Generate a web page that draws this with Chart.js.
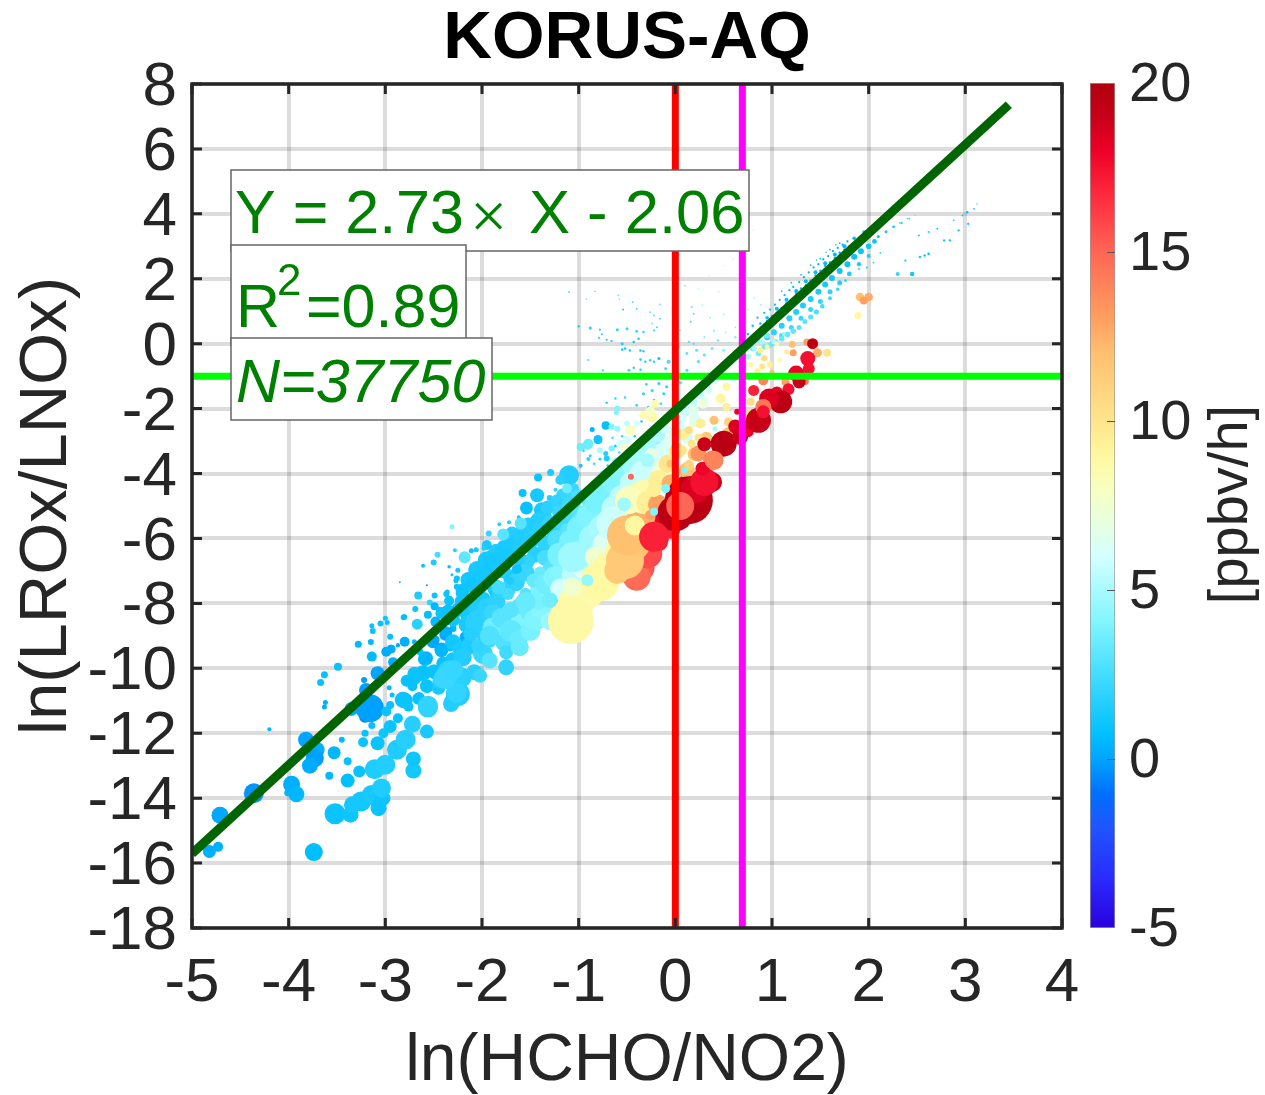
<!DOCTYPE html>
<html>
<head>
<meta charset="utf-8">
<title>KORUS-AQ</title>
<script src="https://cdn.jsdelivr.net/npm/chart.js@4"></script>
<style>
    body { margin: 0; background: #ffffff; }
    #plot { position: absolute; left: 0; top: 0; }
    #bar { position: absolute; left: 1070px; top: 0; }
</style>
</head>
<body>
<canvas id="plot" width="1265" height="1095"></canvas>
<canvas id="bar" width="195" height="1095"></canvas>
<script>
const xTicks = [-5, -4, -3, -2, -1, 0, 1, 2, 3, 4]
const yTicks = [8, 6, 4, 2, 0, -2, -4, -6, -8, -10, -12, -14, -16, -18]
const barTicks = [-5, 0, 5, 10, 15, 20]

// colour bar stops
const barValues = [-5, -3.5, -2, -1, 0, 0.7, 2.5, 4, 5, 6, 7, 8, 9, 10, 12, 13, 15, 16.5, 18, 19, 20]
const barColors = ["#2a00dd", "#2a2cff", "#1f55ff", "#0070ff", "#00a5ff", "#00bfff", "#44dcff", "#80f5ff", "#a8faff", "#d4ffff", "#e8ffe0", "#f8ffc0", "#fff8a0", "#ffe58c", "#ffc070", "#ffa060", "#ff6655", "#ff3040", "#ee0028", "#c80018", "#b00010"]

// reference lines
const fitX = [-5, 3.45]
const fitY = [-15.71, 7.36]
const redX = 0
const magentaX = 0.693
const greenY = -1

// each row: ln(HCHO/NO2), ln(LROx/LNOx), rate in ppbv/h, weight
const bandCore = [
    [1,0,2.4,2.5],[1.1,0.25,2.4,2.5],[1.2,0.5,2.3,2.5],[1.3,0.78,2.2,2.5],[1.4,1.05,2.1,2.5],[1.5,1.3,2,2.5],[1.6,1.6,1.9,2.5],[1.7,1.88,1.7,2.5],[1.8,2.15,1.6,2.4],[1.9,2.45,1.5,2.2],[2,2.7,1.4,2],
    [0.95,0.2,1.8,3],[1.02,0.35,1.8,3],[1.1,0.55,1.7,3],[1.18,0.78,1.7,3],[1.25,0.98,1.6,3],[1.32,1.18,1.6,3],[1.4,1.38,1.5,3],[1.48,1.6,1.4,3],[1.55,1.82,1.3,3],[1.62,2.02,1.2,3],[1.7,2.24,1.1,3],[1.78,2.45,1,3],[1.85,2.68,1,3],[1.92,2.85,1,3],[2,3,1,2.8],[2.06,3.15,1,2.4],
    [0.95,0.8,0.7,1.8],[1.05,1.08,0.7,2],[1.15,1.35,0.7,2],[1.25,1.62,0.6,2],[1.35,1.92,0.6,2],[1.45,2.2,0.6,2],[1.55,2.48,0.6,2],[1.65,2.75,0.6,2],[1.75,3,0.6,2],[1.85,3.25,0.6,1.8],[1.95,3.45,0.8,1.5],
    [2.1,3.3,1.2,1.6],[2.18,3.45,1.2,1.5],[2.26,3.6,1.4,1.3],[2.34,3.72,1.8,1.2],[2.42,3.85,2.4,1]
]

const cloudDots = [
    [0.75,0.3,0.8,1],[0.8,0.55,0.8,1],[0.85,0.8,0.7,0.9],[0.88,0.62,1,1],[0.92,0.95,0.7,0.9],[0.95,0.7,0.8,1],[0.98,1.05,0.7,0.9],[1,0.85,0.8,1],[1.03,1.2,0.6,0.9],[1.05,0.95,0.7,1],
    [1.08,1.35,0.6,0.9],[1.1,1.1,0.7,1],[1.13,1.5,0.6,0.9],[1.15,1.25,0.6,1],[1.18,1.65,0.5,0.9],[1.2,1.35,0.6,1],[1.22,1.75,0.5,0.9],[1.25,1.55,0.5,1],[1.28,1.9,0.5,0.9],[1.3,1.7,0.5,1],
    [1.33,2.05,0.4,0.9],[1.35,1.8,0.5,1],[1.38,2.2,0.4,0.9],[1.4,1.95,0.5,1],[1.43,2.35,0.4,0.9],[1.45,2.1,0.4,1],[1.48,2.45,0.4,0.9],[1.5,2.25,0.4,1],[1.53,2.6,0.3,0.9],[1.55,2.4,0.4,1],
    [1.58,2.7,0.3,0.9],[1.6,2.5,0.3,1],[1.63,2.85,0.3,0.9],[1.65,2.65,0.3,1],[1.68,2.95,0.3,0.9],[1.7,2.8,0.3,1],[1.73,3.05,0.3,0.9],[1.75,2.9,0.3,1],[1.78,3.15,0.3,0.9],[1.8,3,0.3,1],
    [1.3,2.12,0.7,0.7],[1.4,2.42,0.7,0.7],[1.5,2.62,0.7,0.7],[1.6,2.9,0.7,0.7],[1.7,3.1,0.7,0.7],[1.2,1.88,0.8,0.7],[1.1,1.62,0.9,0.7],[1.46,2.58,0.8,0.6],[1.56,2.82,0.8,0.6],[1.66,3.05,0.8,0.6],
    [0.8,-0.15,3.5,2.2],[0.86,-0.3,3.6,2.2],[0.92,-0.1,3.5,2.2],[0.98,-0.05,3.4,2.2],[1.04,0.05,3.4,2.2],[1.1,0.15,3.3,2.2],[1.16,0.28,3.3,2.2],[1.22,0.38,3.2,2.2],[1.28,0.5,3,2],[1.34,0.68,3,2],[1.4,0.82,2.8,2],[1.46,0.98,2.6,2],[1.52,1.15,2.5,1.8],[1.6,1.4,2.4,1.6],[1.68,1.68,2.2,1.4],[1.76,1.95,2,1.2],
    [2.12,2.8,1.4,0.7],[1.98,2.35,1.5,0.8],[2.05,2.5,1.4,0.7],[1.9,2.3,1.5,0.8],[2.25,3.6,1.6,0.6],[2.32,3.72,2,0.6],[2.4,3.85,2.5,0.6],[2.48,3.95,3,0.5],
    [2.45,2.15,1.2,1.8],[2.3,2.15,2,1.6],[2.38,2.56,1.2,0.9],[2.53,2.67,1.2,1],[2.62,2.77,1,1.1],[2.58,2.72,1,1],[2.78,3.18,1,0.9],[2.84,3.18,1,0.9],[2.93,3.49,0.9,0.9],[3.03,3.69,1,0.9],
    [3.02,4.05,0.9,1],[3.09,4.15,1.2,0.7],[2.88,3.8,1.6,0.7],[2.71,3.54,1.4,0.8],[2.62,3.44,1.4,0.8],[2.52,3.33,1.4,0.8],[3.12,4.3,2,0.6],[2.97,3.95,1.4,0.8],
    [-1.1,1.59,2,0.7],[-1,0.53,1,0.9],[-0.88,0.48,1.5,1.2],[-0.83,1.61,2.5,0.6],[-0.92,1.38,3,0.6],[-0.59,1.49,3,0.7],[-0.58,1.38,3,0.6],[-0.44,1.28,2.5,0.7],[-0.4,1.08,2.5,0.8],[-0.26,0.97,3,0.8],
    [-0.22,0.87,3,0.8],[-0.54,1.05,1.5,0.8],[-0.16,1.21,3,0.7],[-0.16,0.77,2.5,0.8],[-0.19,0.51,2.5,0.8],[-0.24,0.62,3,0.7],[-0.78,0.43,2,0.9],[-0.76,0.29,1.8,0.9],[-0.79,0.18,1.8,0.9],[-0.71,0.12,1.8,0.9],
    [-0.6,0.43,2,1.2],[-0.5,0.46,2,1.2],[-0.4,0.38,2,1.1],[-0.33,0.36,2,1],[-0.22,0.41,2.5,0.9],[-0.66,0.08,1.5,0.9],[-0.55,0,1.5,1.2],[-0.52,-0.15,1.5,1.1],[-0.43,0.05,1.5,1.1],[-0.38,0.15,1.5,1],
    [-0.55,-0.18,1.5,1.1],[-0.47,-0.21,1.5,1],[-0.36,-0.21,1.8,1.1],[-0.33,-0.23,1.8,1],[-0.36,-0.49,1.8,1.1],[-0.31,-0.56,1.8,1],[-0.26,-0.51,1.8,1],[-0.17,-0.46,0.9,1.2],[-0.22,-0.56,1.8,1],[-0.07,-0.56,2.5,1.6],
    [-0.48,-0.82,1.8,1.1],[-0.43,-0.74,1.8,1],[-0.36,-0.8,1.8,1],[-0.1,-0.77,2,1.1],[0.1,1.79,3.5,0.7],[0.17,1.13,3,0.8],[0.19,0.92,3,0.8],[0.16,0.67,3,0.9],[0.05,0.41,3.5,0.9],[0.14,0.05,3,1],
    [0.19,0,3,1],[0.03,-0.1,3,1.2],[0.12,-0.3,2.8,1.1],[0.22,-0.2,3,1.2],[0.3,-0.35,3,1.2],[0.24,-0.55,2.8,1.3],[0.38,-0.15,3.4,1.2],[0.44,0.1,3.5,1],[0.5,-0.2,4,1.2],[0.55,0,4.2,1],
    [0.62,0.2,4,1],[0.3,0.2,3.5,0.8],[0.4,0.4,3.5,0.8],[0.52,0.35,4,0.7],[0.62,0.5,4,0.7],[0.7,0.65,4,0.7],[0.36,0.8,4,0.7],[0.5,0.9,4.5,0.7],[0.28,1.2,4.5,0.6],[0.45,1.6,4.5,0.6],
    [0.6,2.6,4.5,0.6],[0.72,3,5,0.5],[0.81,3.5,5,0.5],[0.68,2.2,5,0.5],[0.35,2.1,5,0.5],[0.5,2.4,5,0.5],[0.24,1.7,4.5,0.5],[0.82,1.4,4,0.6],[0.75,1.05,4,0.7],[0.88,1.2,3.5,0.6],
    [-0.71,-1.82,1.8,1],[-0.62,-1.69,2,1],[-0.52,-1.66,2,1],[-0.24,-1.44,1.8,1.2],[-0.17,-1.23,1.6,1.2],[-0.33,-1.54,1.8,1.2],[-0.12,-1.54,1.8,1.2],[-0.22,-1.74,1.8,1.2],[-0.09,-1.33,1.8,1.2],[-0.4,-1.9,2,1.1],
    [-0.3,-1.25,1.6,1],[-0.05,-1.05,2,1.2],[0.05,-1.2,2.5,1.4],[0.12,-0.82,2.5,1.2],[-0.15,-0.98,2,1.1],[-0.75,-0.82,2,0.9],[-0.62,-1.05,1.8,0.9],[-0.9,-0.5,2.2,0.8],[-0.8,-0.95,2.2,0.8],[-0.22,-0.95,2,1],
    [-0.95,-3.3,1.6,1],[-0.88,-3.45,2,1.2],[-0.84,-3.7,2,1],[-0.78,-3.55,1.5,1.2],[-0.7,-3.75,2,1],[-0.62,-3.15,1.5,1.2],[-0.58,-3.35,2.5,1],[-0.5,-3.05,2,1.2],[-0.55,-2.85,2,1],[-0.65,-2.9,2.5,1],[-0.42,-2.85,1.5,1],[-0.35,-2.4,1.5,1],[-0.28,-1.95,1.8,1],[-0.15,-1.85,2,1]
]

const blueBubbles = [
    [-3.74,-15.66,0.7,9],[-4.82,-15.64,0.3,6.5],[-4.73,-15.5,0.3,5],[-4.71,-14.53,0.1,8.5],[-4.36,-13.85,-0.3,10],[-3.97,-13.57,0.3,8.5],[-3.92,-13.88,0.5,8],[-4.01,-13.83,0.4,3.5],
    [-3.82,-12.2,0,8],[-3.71,-12.51,0.3,8],[-3.73,-12.77,-0.1,9],[-3.78,-13,0.2,8],[-3.53,-12.6,0.5,6.5],[-3.45,-12.2,0.6,3],[-3.39,-12.86,0.9,4],[-3.58,-13.31,0.6,4],[-3.39,-13.46,0.7,7],[-3.27,-13.18,0.9,6],
    [-3.52,-14.48,1,10.5],[-3.36,-14.51,1.1,8],[-3.34,-14.2,1.2,8.5],[-3.25,-14.1,1.2,10],[-3.14,-13.9,1.3,10],[-3.07,-14.31,1,8],[-3.03,-14,1.1,8],[-3.04,-13.69,1.5,9.5],[-3.11,-13.11,1.5,10],[-3,-12.97,1.6,10],
    [-2.71,-13.15,1.2,8],[-2.71,-12.79,1.1,7.5],[-2.88,-12.51,1.5,10],[-2.79,-12.2,1.7,10],[-2.72,-11.72,1.7,8.5],[-2.57,-11.95,1.3,7],[-2.56,-11.21,1.9,10],[-2.31,-11.03,1.6,8],[-2.47,-10.15,1.3,7],
    [-3.21,-11.49,-0.6,6],[-3.35,-11.25,0,7],[-3.16,-11.23,-0.1,14],[-3.2,-10.67,-0.1,7],[-3.08,-10.15,0,7],[-3.22,-10.36,-0.1,3],[-3.49,-9.95,0.9,4],[-3.63,-10.2,0.9,3.5],[-3.67,-10.44,0.9,3.5],[-3.62,-11.05,0.3,2.5],[-3.63,-11.19,0.3,2.5],[-4.2,-11.88,0.4,2],
    [-3.28,-9.26,0.6,3.5],[-3.15,-9.19,0.5,3],[-3.14,-9.64,0.6,5],[-2.99,-9.49,0.2,5],[-2.94,-9.41,0.4,4.5],[-2.95,-9.03,0.8,3],[-3.13,-8.85,0.9,3],[-3.14,-8.69,0.9,2.5],[-3.05,-8.62,1,3],[-2.98,-8.59,1,2.5],[-3,-8.46,1,2.5],
    [-2.8,-9.16,0,4],[-2.87,-9.28,0,2],[-2.8,-8.41,0.8,2.5],[-2.96,-10.6,0.7,2.5],[-2.93,-10.82,0.8,2.5],[-2.82,-10.97,1,8],[-2.76,-11.18,1,5],[-2.65,-10.9,0.8,5.5],[-2.87,-11.54,0.9,5],[-2.95,-11.79,1,6.5],[-3.02,-12,1.1,5],[-3.21,-12,0.9,3.5],[-3.14,-11.76,0.9,3.5],
    [-3.23,-12.28,1,5],[-3.08,-12.31,1,7],[-2.99,-11.33,1,5],[-2.95,-11.13,0.9,4],[-2.7,-10.3,0.8,7],[-2.61,-10.15,1,8],[-2.5,-10.1,1,7],[-2.75,-10.35,0.8,5],[-2.58,-9.69,0.4,7],[-2.42,-9.42,0.2,7],[-2.34,-9.35,0.3,4],[-2.49,-9.13,-0.1,5],[-2.38,-8.97,0.1,6],[-2.48,-8.56,0.3,5],[-2.17,-9.03,0.2,5.5],[-2.3,-8.77,0.5,3.5],[-2.09,-8,0.7,6.5],
    [-2.46,-6.5,2.5,3],[-2.5,-6.74,1.5,3],[-2.61,-6.84,1,2],[-2.34,-6.87,0.8,1.8],[-2.25,-6.98,1.2,2.5],[-2.26,-7.23,0.9,3],[-2.26,-7.49,0.9,3],[-2.11,-6.38,1,2.5],[-2.06,-6.35,1.2,2.5],[-2.85,-7.35,0.5,1],[-2.57,-7.44,-0.3,1],
    [-2.66,-7.76,1.5,4],[-2.49,-7.76,1,3],[-2.37,-7.71,1,3],[-2.22,-7.71,0.6,4],[-2.54,-7.97,2,3],[-2.69,-8.17,1,3],[-2.34,-7.92,1,5],[-2.49,-8.09,0.5,4],[-2.44,-8.22,0.8,3.5],[-2.56,-8.35,0.7,4],[-2.81,-8.43,0.7,3],[-2.67,-8.64,1.8,5.5],[-2.48,-8.58,0.6,5],[-2.37,-8.89,0.3,6],[-2.51,-9.2,0.1,6],[-2.42,-9.46,0.5,6.5],[-2.33,-9.35,0.7,4],
    [-2.8,-9.18,0.3,5],[-2.7,-9.18,0.5,2.5],[-2.87,-9.3,0.2,2],[-2.94,-9.4,0.2,4],[-2.17,-9.05,0.3,6],[-2.59,-9.71,0.5,7],[-2.64,-9.5,0.8,3.5],[-2.92,-9.81,0.2,5],[-2.49,-10.07,1,6],[-2.6,-10.07,0.9,5],[-2.7,-10.17,1,7],[-2.78,-10.38,0.9,6],[-2.57,-10.55,1,7],[-2.8,-10.99,1,8],[-2.66,-10.94,0.9,6],[-2.72,-10.55,0.9,5],
    [-2.02,-6.94,1.2,8],[-1.89,-6.58,1.1,8],[-1.78,-6.23,1.3,6],[-2.06,-7.2,1.1,5],[-2.12,-7.35,1,6],[-1.68,-6.1,1.3,4],[-1.6,-5.95,1.4,3],[-1.95,-6.2,1.4,5],[-1.85,-6.41,1.5,8],[-1.95,-6.67,1.3,9],[-2.05,-6.97,1.3,9],[-2.14,-7.28,1.2,8],[-2.22,-7.69,1,5],[-2.36,-7.65,1,2.5],[-2.27,-7.3,1,2.5],[-2.31,-7.12,1,1.5],
    [-1.42,-4.12,1,4],[-1.29,-3.97,1.5,3.5],[-1.1,-4.05,1.6,10],[-1.19,-4.2,1.8,5],[-1.58,-4.6,0.9,4],[-1.43,-4.67,1.3,7],[-1.54,-5.06,0.9,6.5],[-1.38,-5.13,1.4,8],[-1.33,-5.33,1.6,5],[-1.16,-4.67,2.2,7],[-1.69,-5.85,1.6,7],[-1.57,-5.74,1.8,8],[-1.93,-5.85,2.2,3],[-1.82,-5.56,1.8,2],[-2.28,-6.36,1.8,2],[-1.98,-6.3,1.6,2.5],
    [-1.5,-5.5,1.7,3],[-1.45,-5.9,1.6,5],[-1.3,-5.6,2,5],[-1.22,-5.2,2.2,5],[-1.05,-4.45,2.2,5],[-1.62,-5.35,1.4,2],[-1.72,-5.5,1.6,2],[-1.24,-4.5,2,2],[-1.3,-4.75,1.7,3],[-1.18,-4.95,2,4],[-1.75,-6.35,1.4,5],[-2.02,-7.55,1.2,6],[-1.92,-7.2,1.3,7],
    [-0.8,-2.97,1,4],[-0.72,-2.53,1,4],[-0.86,-2.64,0.5,2.5],[-0.72,-2.51,0.8,4],[-0.8,-2.95,1,4.5],[-0.71,-3.54,1.5,3],[-0.98,-3.76,1.2,2],[-0.9,-3.55,1.8,2],[-0.72,-3.38,1.6,2.5],[-0.65,-3.25,1.5,2]
]

const midBlue = [
    [-2.2,-7.6,1.1,7],[-2.1,-7.4,1.1,7],[-2,-7.1,1.2,8],[-1.9,-6.75,1.2,8],[-1.8,-6.45,1.3,8],[-1.72,-6.2,1.4,7],[-1.62,-5.95,1.5,7],[-1.52,-5.6,1.6,8],[-1.42,-5.45,1.6,8],[-1.32,-5.05,1.8,7],[-1.22,-4.85,2,7],[-1.12,-4.7,2.2,6],
    [-2.42,-8.3,1,6],[-2.35,-8.25,0.9,7],[-2.3,-8.5,1.1,7],[-2.25,-8.2,1,7],[-2.2,-7.95,1.1,8],[-2.15,-8.3,1.2,8],[-2.1,-7.95,1.1,8],[-2.05,-7.6,1.2,8],[-2,-7.9,1.3,9],[-1.95,-7.35,1.2,8],[-1.9,-7,1.2,8],[-1.85,-7.55,1.4,9],[-1.8,-6.95,1.3,9],[-1.75,-6.6,1.3,8],[-1.7,-7.2,1.5,8],[-1.65,-6.55,1.4,8],[-1.6,-6.25,1.5,8],[-1.55,-6.75,1.6,8],[-1.5,-6.1,1.6,8],[-1.45,-6.5,1.7,8],[-1.4,-5.75,1.7,8],[-1.35,-6.15,1.9,8],[-1.3,-5.5,2,7],[-1.25,-5.85,2,8],[-1.2,-5.2,2.2,7],[-1.15,-5.55,2.4,8],[-1.1,-5,2.4,7],[-1.05,-5.3,2.6,8],[-1,-4.7,2.6,7],
    [-2.3,-9.2,1.2,8],[-2.22,-9.4,1.3,8],[-2.12,-9.3,1.5,9],[-2.4,-9.85,0.9,7],[-2.3,-9.75,1.2,8],[-2.45,-10.6,1.3,7],[-2.15,-8.65,1.4,9],[-2.05,-8.2,1.5,9],[-1.95,-8.1,1.8,9],[-1.85,-7.95,1.9,9],[-1.75,-7.6,2,9],[-1.65,-7.35,2,9],[-1.55,-7.05,2.2,9]
]

const lightBubbles = [
    [-2.18,-6.58,3.2,6],[-1.78,-5.88,3,6],[-1.6,-5.54,3,6],[-2.31,-5.64,4,2.5],[-0.91,-3.13,4,5],[-0.98,-3.18,3.5,4],[-0.9,-3.08,3.5,5],[-0.6,-2.62,4.5,3],[-0.66,-2.56,4,3],[-0.5,-2.46,5.5,3],[-0.57,-3.08,6,4],[-0.66,-3.23,4,3],[-0.78,-3.28,5,3],[-0.5,-2.97,6,4],[-0.4,-2.46,6,3],[-0.6,-2,4,3],[-0.61,-2.12,4,2.5],
    [-1.12,-4.46,3.5,5],[-2.25,-10.79,1.6,12],[-2.56,-11.15,2,10],[-2.32,-11.1,1.6,8],[-2.35,-10.07,2,10],[-2.21,-10.28,1.8,10],[-2.08,-10.12,1.8,8],[-2.02,-10.23,2.2,7],[-2.2,-9.66,1.6,9],[-2.35,-10.48,1.4,5],[-2.28,-10.17,1.8,10],[-2.44,-10.38,2,7],[-2.26,-10.75,2,10],[-2.38,-10.3,2.2,11],[-2.3,-10.05,2.1,10],
    [-2.02,-8.64,1.8,15],[-2.12,-8.95,1.7,7],[-1.99,-9.56,2.1,10],[-1.92,-9.15,2.2,7],[-1.77,-9.2,2.8,9],[-1.75,-9.51,2.4,7],[-1.75,-9.97,2,8],[-1.92,-9.76,3,8],[-1.61,-9.35,3.4,9],[-1.58,-8.89,3.2,7],[-1.89,-8.3,2.2,9],[-1.83,-8.7,2.4,8],[-2.04,-9.3,2,7],
    [-1.59,-8.53,4,11],[-1.61,-8.07,3,8],[-1.73,-7.71,2.5,6],[-1.83,-7.51,2.5,7],[-1.7,-8.2,3,8],[-1.51,-8.23,3.5,10],[-1.3,-7.97,4.2,10],[-1.19,-8.07,2.7,6],[-1.42,-7.61,4,8],[-1.47,-7.3,3.3,7],[-1.23,-7,3,8],[-1.51,-6.69,2,6],[-1.64,-6.94,1,5],[-1.71,-7.3,1.5,4],[-1.89,-8.74,3.6,10],
    [-1.22,-6.05,2.8,10],[-1.12,-5.74,3,7],[-1,-5.49,3.2,9],[-0.88,-4.77,3.2,10],[-1.05,-5.03,3,7],[-0.78,-4.41,3.3,8],[-0.71,-4.1,3.5,8],[-0.91,-6.15,4,13],[-0.84,-5.64,4.2,9],[-0.74,-5.08,4.5,10],[-0.57,-4.1,4,8],[-0.6,-3.69,3.8,6],[-0.5,-4.41,4.6,9],[-0.4,-3.69,5,7],[-0.33,-4.1,5,8],[-0.29,-3.49,5,8],[-0.19,-3.08,4,5],[-0.36,-3.08,4.5,5],
    [-1.35,-6.6,2.6,8],[-1.3,-6.9,3,7],[-1.1,-6.35,3,7],[-1,-6.9,3.4,8],[-0.65,-4.9,3.8,6],[-0.95,-5.9,3.6,8],[-1.1,-7.1,4,7],[-1.4,-7.05,3.4,6],[-1.55,-7.7,3,6],[-1.25,-7.55,4,6],[-0.76,-5.5,5,8]
]

const midLight = [
    [-1.92,-9,2.8,10],[-1.8,-8.45,3,10],[-1.7,-8.85,3.2,11],[-1.62,-9.1,3.4,9],[-1.5,-8.85,3.8,10],[-1.45,-8.5,4,11],[-1.38,-8.15,4.2,11],[-1.3,-8.55,4.6,9],[-1.42,-7.9,3.8,10],[-1.55,-7.95,3.4,10],[-1.35,-7.4,3.6,10],[-1.25,-7.2,4,11],[-1.15,-7,4.2,12],[-1.2,-6.5,3.8,12],[-1.08,-6.1,3.8,12],[-1,-5.7,3.8,12],[-0.9,-5.3,4,12],[-0.82,-4.9,3.8,11],[-0.75,-4.6,3.8,11],[-0.65,-4.3,4,11],[-0.58,-3.9,4.2,10],[-0.45,-3.75,4.8,10],[-0.38,-3.4,5,9],[-0.28,-3.05,5,9],[-0.18,-2.8,5.2,8],
    [-0.95,-6.4,4.4,13],[-0.85,-6,4.8,14],[-0.75,-5.7,5,14],[-0.62,-5.1,5.4,14],[-0.55,-4.75,5.4,13],[-0.45,-4.3,5.6,12],[-0.35,-3.95,5.8,11],[-0.25,-3.6,6,10],[-0.12,-3.3,6.2,9],[-1.05,-7.1,5.5,12],[-0.95,-6.9,6.5,11],[-0.72,-6.2,6.5,13],[-0.58,-5.7,6.8,12],[-0.5,-5.2,6.5,10],
    [-0.02,-2.7,6.4,7],[0.05,-2.3,6.2,6],[0.1,-2.1,5.8,5],[0.18,-1.8,5.6,5],[0.25,-1.55,5.6,5],[0.32,-1.3,5.4,4],[0.4,-1.05,5.4,4],[0.48,-0.8,5,4],[0.56,-0.55,5,4],[0.64,-0.4,5,3.5],[0.7,-0.2,4.6,3.5],[0.78,-0.05,4.4,3],[0.85,0.12,4,3],[0.95,0.25,3.6,3],[0.3,-1.75,6.4,4],[0.2,-2.4,7,6]
]

const paleBubbles = [
    [-1.19,-7.54,6,10],[-1.06,-6.58,4.8,15],[-1.02,-6.56,4.8,14],[-1.19,-7.56,6,10],[-0.64,-5.54,5.8,17],[-0.83,-6.56,7.5,10],[-0.12,-4,7.5,8],[-0.14,-3.8,7.5,8],[-0.25,-3.4,7,6],[0,-3.3,7,7],[-0.05,-3,6.5,6],[0.12,-2.9,6,6],[0.05,-2.55,6,5],[-0.1,-2.6,6,5],[0.2,-2.3,6.5,5],[0.19,-2.05,6.5,5],[0.29,-1.85,7,5],[-0.29,-3.59,5,7],[-0.47,-3.38,5,5],[-0.02,-2.15,6,4],[0.35,-1.45,6,3],[0.42,-1.15,6,3],[0.3,-1.2,5,3],[0.5,-0.85,6,3],[0.6,-1.1,6,3],[0.7,-0.7,5.5,3],[0.75,-0.4,5,3],[0.82,-0.15,5,2.5],[0.9,0.05,5,2.5],[1.02,0.05,5,2.5],[1.12,0.3,4.5,2]
]

const warmBubbles = [
    [-0.36,-6.9,15.5,14],[-0.15,-5.6,16,12],[-0.1,-5.3,18,12],[-0.05,-5.7,17,10],[-0.18,-6.1,17,10],[0.1,-4.3,17,8],
    [-0.9,-7.7,8.8,15],[-1.03,-8,8.6,18],[-1.08,-8.54,8.8,23],[-1.07,-7.49,7.5,9],[-0.72,-6.9,8.8,14],[-0.6,-6.4,9,12],[-0.78,-7.33,8.9,19.5],[-0.4,-7.18,14.8,14],[-0.29,-6.46,15.8,15],[-0.42,-6.2,12,15],[-0.6,-7,11.5,13],[-0.52,-6.67,11.5,19],[-0.5,-5.9,12,20],[-0.35,-5.3,12.5,14],[-0.42,-5.6,9,10],[-0.33,-4.72,8.6,17],[-0.48,-4.82,8.2,14],[-0.28,-4.9,9.5,12],[-0.18,-4.95,13,10],[-0.18,-4.2,9.5,10],[-0.05,-4.3,12.5,9],[-0.08,-3.7,10,9],[0.02,-3.3,10.5,8],[0.08,-2.8,9.5,6],[0.12,-3.9,12,8],[0.2,-3.4,12,7],[0.32,-2.9,11.5,6],[0.45,-3.3,12,6],[-0.22,-4.51,9.5,7],[-0.26,-5.28,13,5],
    [-0.21,-1.85,8.5,4],[-0.33,-2.2,8.5,4],[-0.24,-2.26,9,5],[-0.47,-2.67,8.5,5],[-0.53,-3.18,7.5,4],[-0.34,-2.21,8.5,3],[-0.26,-2.1,8,5],[0.47,-1.69,9,5],[0.53,-1.33,9,4],[0.53,-1.95,9.5,4],[0.78,-1.79,10.5,4],[0.76,-2.15,10,4],[0.55,-2.77,12,6.5],[0.55,-2.41,11,4.5],[0.4,-2.36,12,4.5],
    [0.24,-3.38,13.5,8],[0.39,-3.59,14,10],[0.14,-3.74,11,5],[0.07,-3.28,10,5],[-0.02,-3.69,10,5],[0.26,-2.46,9.5,5],[0.17,-3.08,10,4],[0.24,-2.9,10,4],[0.14,-2.67,10.5,4],[0.02,-2.85,9,3.5],[-0.05,-3.7,12,4],
    [0.88,-0.2,9.5,3],[0.92,-0.45,10.5,3],[0.98,-0.65,9.5,3],[0.9,-0.7,10,3],[1,-0.88,12,2.5],[0.85,-0.85,9.5,3],[0.95,-0.1,9,2.5],[0.78,-0.65,9,2.5],[0.72,-0.95,10,3],[1.08,-0.5,8.5,2.5],[0.91,-1.13,14,5],[0.95,-1.64,13,4],[1.14,-1.18,13,4],
    [1.47,-0.28,12.5,4.5],[1.57,-0.28,10,4],[1.36,0.05,13,3.5],[1.22,-0.28,13,3.5],[1.21,-0.02,12,3.5],[1.34,-1.15,14.5,4],[1.05,0,8.5,2.5],[1.15,-0.25,9.5,2.5],[1.91,1.44,12,4.3],[2,1.44,12.7,4.3],[1.95,1.33,13,4],[1.89,0.87,9,3.5]
]

const hotBubbles = [
    [0.14,-4.82,19.5,24],[0.2,-4.5,18.5,14],[0,-5.23,19.5,18],[-0.22,-5.95,17,15],[0.38,-4.26,19,10],[0.3,-4.26,17.5,14],[0.5,-3.08,19.5,13],[0.3,-3.1,19,7],[0.67,-2.87,19,8],[0.64,-2.1,18,3],[0.28,-3.85,18,7],[0.62,-2.55,18.5,7],[0.75,-2.7,18,6],[0.7,-2.5,19.5,5],
    [1.42,0,19.5,5.5],[1.37,-0.46,17.5,7.5],[1.38,-0.77,17.5,6],[1.25,-0.92,18,8],[1.28,-1.18,19,6.5],[1.17,-1.4,17.5,6],[1.05,-1.5,18,6],[1.09,-1.79,19.5,11.5],[0.97,-1.69,18.5,10],[0.81,-1.44,17,5.5],[0.86,-2.36,19,12.5],[0.91,-1.95,14.5,8],[0.91,-2.1,17.5,6.5],
    [-0.46,-4.1,15,3],[0.05,-5,15,14],[0.4,-3.59,14,9.5]
]

const topBubbles = [
    [-0.91,-7.29,4.5,6],[-0.53,-4.95,4.8,7],[-0.22,-5.18,4,4],[-0.1,-4.46,4,4.5],[0.1,-3.9,4,3],[0.41,-2.62,5,2.5],[-1.3,-7.9,3.6,8],[-0.46,-2.67,8,5]
]

const xLabel = "ln(HCHO/NO2)"
const yLabel = "ln(LROx/LNOx)"
const barLabel = "[ppbv/h]"
const titleText = "KORUS-AQ"

const escuro = "#262626"
const verde = "#008000"

function corDoValor(v) {
    let i = 0
    while (i < barValues.length - 2 && v > barValues[i + 1]) i++
    const t = Math.min(1, Math.max(0, (v - barValues[i]) / (barValues[i + 1] - barValues[i])))
    const a = parseInt(barColors[i].slice(1), 16)
    const b = parseInt(barColors[i + 1].slice(1), 16)
    const r = Math.round((a >> 16) + ((b >> 16) - (a >> 16)) * t)
    const g = Math.round(((a >> 8) & 255) + (((b >> 8) & 255) - ((a >> 8) & 255)) * t)
    const bl = Math.round((a & 255) + ((b & 255) - (a & 255)) * t)
    return `rgb(${r},${g},${bl})`
}

function camada(linhas, ordem, escala = 1) {
    return {
        type: "bubble",
        order: ordem,
        data: linhas.map((l) => ({ x: l[0], y: l[1], r: l[3] * escala })),
        backgroundColor: linhas.map((l) => corDoValor(l[2])),
        borderWidth: 0
    }
}

function reta(pontos, cor, largura, ordem) {
    return {
        type: "line",
        order: ordem,
        data: pontos,
        borderColor: cor,
        borderWidth: largura,
        pointRadius: 0,
        fill: false
    }
}

// the blank first line pushes a label a few pixels down, as in the picture
const rotuloDescido = (v) => ["", String(v)]

// box, inward ticks and the three fit labels go above the datasets
const moldura = {
    id: "moldura",
    afterDatasetsDraw(chart) {
        const { ctx, chartArea: a, scales } = chart
        ctx.save()
        ctx.strokeStyle = escuro
        ctx.lineWidth = 3
        xTicks.forEach((t) => {
            const p = scales.x.getPixelForValue(t)
            ctx.beginPath()
            ctx.moveTo(p, a.bottom); ctx.lineTo(p, a.bottom - 10)
            ctx.moveTo(p, a.top); ctx.lineTo(p, a.top + 10)
            ctx.stroke()
        })
        yTicks.forEach((t) => {
            const p = scales.y.getPixelForValue(t)
            ctx.beginPath()
            ctx.moveTo(a.left, p); ctx.lineTo(a.left + 10, p)
            ctx.moveTo(a.right, p); ctx.lineTo(a.right - 10, p)
            ctx.stroke()
        })
        ctx.lineWidth = 3.5
        ctx.strokeRect(a.left, a.top, a.right - a.left, a.bottom - a.top)

        const caixa = (x, y, w, h) => {
            ctx.fillStyle = "#ffffff"
            ctx.fillRect(x, y, w, h)
            ctx.strokeStyle = "#666666"
            ctx.lineWidth = 1.5
            ctx.strokeRect(x, y, w, h)
        }
        const texto = (s, x, y, fonte) => {
            ctx.font = fonte
            ctx.fillStyle = verde
            ctx.textBaseline = "alphabetic"
            ctx.textAlign = "left"
            ctx.fillText(s, x, y)
        }
        caixa(231, 170, 518, 81)
        texto("Y = 2.73", 235, 233, "61px 'Liberation Sans'")
        texto("\u00d7", 470, 238, "66px 'Liberation Serif'")
        texto("X - 2.06", 529, 233, "61.5px 'Liberation Sans'")
        caixa(231, 245, 235, 100)
        texto("R", 236, 327, "61px 'Liberation Sans'")
        texto("2", 277, 295, "44px 'Liberation Sans'")
        texto("=0.89", 306, 327, "61px 'Liberation Sans'")
        caixa(231, 338, 261, 82)
        texto("N=37750", 236, 402, "italic 61px 'Liberation Sans'")
        ctx.restore()
    }
}

new Chart(document.getElementById("plot"), {
    type: "bubble",
    data: {
        datasets: [
            reta(fitX.map((x, i) => ({ x: x, y: fitY[i] })), "#006400", 9, 1),
            reta([{ x: magentaX, y: -18 }, { x: magentaX, y: 8 }], "#ff00ff", 7, 2),
            reta([{ x: redX, y: -18 }, { x: redX, y: 8 }], "#ff0000", 7, 3),
            reta([{ x: -5, y: greenY }, { x: 4, y: greenY }], "#00ff00", 7, 4),
            camada(topBubbles, 5),
            camada(hotBubbles, 6),
            camada(warmBubbles, 7),
            camada(paleBubbles, 8),
            camada(midLight, 9),
            camada(lightBubbles, 10),
            camada(midBlue, 11),
            camada(blueBubbles, 12),
            camada(cloudDots, 13, 1.25),
            camada(bandCore, 14)
        ]
    },
    options: {
        responsive: false,
        animation: false,
        events: [],
        layout: { padding: { left: 0, right: 203, top: 0, bottom: 0 } },
        plugins: {
            legend: { display: false },
            tooltip: { enabled: false },
            title: {
                display: true,
                text: titleText,
                fullSize: false,
                color: "#000000",
                font: { family: "Liberation Sans", size: 67.5, weight: "bold", lineHeight: 1 },
                padding: { top: 6, bottom: 10.5 }
            }
        },
        scales: {
            x: {
                type: "linear",
                min: -5,
                max: 4,
                afterBuildTicks: (s) => { s.ticks = xTicks.map((v) => ({ value: v })) },
                afterFit: (s) => { s.height = 167 },
                grid: { color: "rgba(38,38,38,0.16)", lineWidth: 4, drawTicks: false },
                border: { display: false },
                ticks: {
                    color: escuro,
                    maxRotation: 0,
                    padding: 25,
                    font: { family: "Liberation Sans", size: 62, lineHeight: 1 }
                },
                title: {
                    display: true,
                    text: xLabel,
                    color: escuro,
                    font: { family: "Liberation Sans", size: 66, lineHeight: 1 },
                    padding: { top: 0, bottom: 0 }
                }
            },
            y: {
                type: "linear",
                min: -18,
                max: 8,
                afterBuildTicks: (s) => { s.ticks = yTicks.map((v) => ({ value: v })) },
                afterFit: (s) => { s.width = 192 },
                grid: { color: "rgba(38,38,38,0.16)", lineWidth: 4, drawTicks: false },
                border: { display: false },
                ticks: {
                    color: escuro,
                    padding: 15,
                    callback: rotuloDescido,
                    font: { family: "Liberation Sans", size: 62, lineHeight: "8px" }
                },
                title: {
                    display: true,
                    text: yLabel,
                    color: escuro,
                    font: { family: "Liberation Sans", size: 67, lineHeight: 1 },
                    padding: { top: 14, bottom: 0 }
                }
            }
        }
    },
    plugins: [moldura]
})

const rotuloBarra = {
    id: "rotuloBarra",
    afterDraw(chart) {
        const { ctx, chartArea: a, scales } = chart
        ctx.save()
        ctx.strokeStyle = "#555555"
        ctx.lineWidth = 1
        barTicks.slice(1, -1).forEach((t) => {
            const p = Math.round(scales.y.getPixelForValue(t)) + 0.5
            ctx.beginPath()
            ctx.moveTo(a.right - 8, p)
            ctx.lineTo(a.right, p)
            ctx.stroke()
        })
        ctx.translate(177, (a.top + a.bottom) / 2 - 1)
        ctx.rotate(-Math.PI / 2)
        ctx.font = "56px 'Liberation Sans'"
        ctx.fillStyle = escuro
        ctx.textAlign = "center"
        ctx.textBaseline = "alphabetic"
        ctx.fillText(barLabel, 0, 0)
        ctx.restore()
    }
}

new Chart(document.getElementById("bar"), {
    type: "bar",
    data: {
        labels: [""],
        datasets: [{
            data: [[barTicks[0], barTicks[barTicks.length - 1]]],
            barPercentage: 1,
            categoryPercentage: 1,
            borderWidth: 1,
            borderSkipped: false,
            borderColor: "#999999",
            backgroundColor: (c) => {
                const area = c.chart.chartArea
                if (!area) return barColors[0]
                const g = c.chart.ctx.createLinearGradient(0, area.bottom, 0, area.top)
                barValues.forEach((v, i) => g.addColorStop((v + 5) / 25, barColors[i]))
                return g
            }
        }]
    },
    options: {
        responsive: false,
        animation: false,
        events: [],
        layout: { padding: { left: 20, right: 0, top: 83, bottom: 167 } },
        plugins: { legend: { display: false }, tooltip: { enabled: false } },
        scales: {
            x: { display: false },
            y: {
                position: "right",
                min: -5,
                max: 20,
                afterBuildTicks: (s) => { s.ticks = barTicks.map((v) => ({ value: v })) },
                afterFit: (s) => { s.width = 150 },
                grid: { display: false, drawTicks: false },
                border: { display: false },
                ticks: {
                    color: escuro,
                    padding: 14,
                    callback: rotuloDescido,
                    font: { family: "Liberation Sans", size: 56, lineHeight: "6px" }
                }
            }
        }
    },
    plugins: [rotuloBarra]
})
</script>
</body>
</html>
